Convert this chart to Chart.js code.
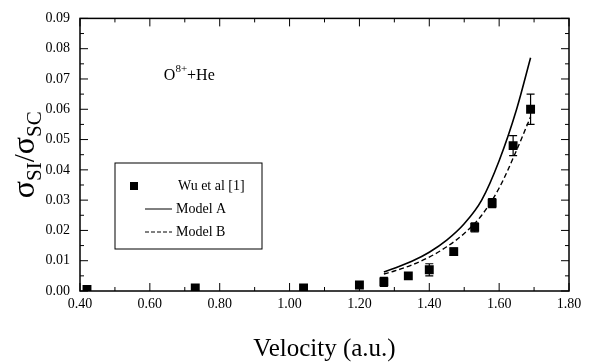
<!DOCTYPE html>
<html>
<head>
<meta charset="utf-8">
<script src="https://cdn.jsdelivr.net/npm/chart.js@4"></script>
<style>
  html, body { margin: 0; padding: 0; background: #fff; }
  #wrap { width: 605px; height: 364px; }
</style>
</head>
<body>
<div id="wrap"><canvas id="ratioChart"></canvas></div>
<script>
// measured points (Wu et al) and error bars
const velocity = [0.42, 0.73, 1.04, 1.20, 1.27, 1.34, 1.40, 1.47, 1.53, 1.58, 1.64, 1.69];
const ratio = [0.0005, 0.001, 0.001, 0.002, 0.003, 0.005, 0.007, 0.013, 0.021, 0.029, 0.048, 0.060];
const ratioErr = [0, 0, 0, 0, 0.0015, 0, 0.002, 0.0012, 0.0015, 0.0015, 0.0033, 0.005];

// model curves
const modelVel = [1.27, 1.30, 1.35, 1.40, 1.45, 1.50, 1.55, 1.60, 1.65, 1.69];
const modelA = [0.0063, 0.0075, 0.0098, 0.0128, 0.0168, 0.0222, 0.0300, 0.0430, 0.0600, 0.0770];
const modelB = [0.0056, 0.0066, 0.0086, 0.0112, 0.0146, 0.0190, 0.0250, 0.0340, 0.0465, 0.0575];

const xTicks = [0.40, 0.60, 0.80, 1.00, 1.20, 1.40, 1.60, 1.80];
const yTicks = [0.00, 0.01, 0.02, 0.03, 0.04, 0.05, 0.06, 0.07, 0.08, 0.09];

const serif = "'Liberation Serif', 'DejaVu Serif', serif";

const toXY = (xs, ys) => xs.map((x, i) => ({ x: x, y: ys[i] }));

// frame, inward ticks, error bars, legend, labels
const decorations = {
  id: "decorations",
  afterDatasetsDraw(chart) {
    const ctx = chart.ctx;
    const xs = chart.scales.x;
    const ys = chart.scales.y;
    const a = chart.chartArea;
    ctx.save();
    ctx.strokeStyle = "#000";
    ctx.fillStyle = "#000";

    // error bars
    ctx.lineWidth = 1.2;
    velocity.forEach((v, i) => {
      if (!ratioErr[i]) return;
      const px = xs.getPixelForValue(v);
      const top = ys.getPixelForValue(ratio[i] + ratioErr[i]);
      const bot = ys.getPixelForValue(ratio[i] - ratioErr[i]);
      ctx.beginPath();
      ctx.moveTo(px, top); ctx.lineTo(px, bot);
      ctx.moveTo(px - 4, top); ctx.lineTo(px + 4, top);
      ctx.moveTo(px - 4, bot); ctx.lineTo(px + 4, bot);
      ctx.stroke();
    });

    // frame
    ctx.lineWidth = 1.5;
    ctx.strokeRect(a.left, a.top, a.right - a.left, a.bottom - a.top);

    // inward ticks
    ctx.lineWidth = 1;
    ctx.beginPath();
    for (let v = 0.4; v <= 1.8001; v += 0.1) {
      const px = xs.getPixelForValue(v);
      const major = Math.round(v * 10) % 2 === 0;
      const len = major ? 8 : 4;
      ctx.moveTo(px, a.bottom); ctx.lineTo(px, a.bottom - len);
      ctx.moveTo(px, a.top); ctx.lineTo(px, a.top + len);
    }
    for (let v = 0; v <= 0.0901; v += 0.005) {
      const py = ys.getPixelForValue(v);
      const major = Math.round(v * 1000) % 10 === 0;
      const len = major ? 8 : 4;
      ctx.moveTo(a.left, py); ctx.lineTo(a.left + len, py);
      ctx.moveTo(a.right, py); ctx.lineTo(a.right - len, py);
    }
    ctx.stroke();

    // O8+ + He label
    const lx = xs.getPixelForValue(0.64);
    const ly = ys.getPixelForValue(0.0715);
    ctx.textBaseline = "alphabetic";
    ctx.textAlign = "left";
    ctx.font = "16px " + serif;
    ctx.fillText("O", lx, ly + 6);
    let w = ctx.measureText("O").width;
    ctx.font = "11px " + serif;
    ctx.fillText("8+", lx + w, ly - 2);
    w += ctx.measureText("8+").width;
    ctx.font = "16px " + serif;
    ctx.fillText("+He", lx + w, ly + 6);

    // legend box
    const bx = 115, by = 163, bw = 147, bh = 86;
    ctx.lineWidth = 1;
    ctx.fillStyle = "#fff";
    ctx.fillRect(bx, by, bw, bh);
    ctx.strokeRect(bx, by, bw, bh);
    ctx.fillStyle = "#000";
    ctx.font = "14px " + serif;
    ctx.textBaseline = "middle";
    ctx.fillRect(130, 182, 8, 8);
    ctx.fillText("Wu et al [1]", 178, 186);
    ctx.beginPath();
    ctx.moveTo(145, 209); ctx.lineTo(172, 209);
    ctx.stroke();
    ctx.fillText("Model A", 176, 209);
    ctx.setLineDash([4, 2]);
    ctx.beginPath();
    ctx.moveTo(145, 232); ctx.lineTo(172, 232);
    ctx.stroke();
    ctx.setLineDash([]);
    ctx.fillText("Model B", 176, 232);

    // y axis title with subscripts
    ctx.save();
    ctx.translate(26, (a.top + a.bottom) / 2);
    ctx.rotate(-Math.PI / 2);
    ctx.textBaseline = "alphabetic";
    const parts = [
      ["\u03c3", 32, 0], ["SI", 21, 7], ["/", 29, 0], ["\u03c3", 32, 0], ["SC", 21, 7]
    ];
    let total = 0;
    parts.forEach(p => { ctx.font = p[1] + "px " + serif; total += ctx.measureText(p[0]).width; });
    let cx = -total / 2;
    parts.forEach(p => {
      ctx.font = p[1] + "px " + serif;
      ctx.fillText(p[0], cx, 8 + p[2]);
      cx += ctx.measureText(p[0]).width;
    });
    ctx.restore();

    ctx.restore();
  }
};

const ctx = document.getElementById("ratioChart");

new Chart(ctx, {
  type: "scatter",
  data: {
    datasets: [
      {
        label: "Wu et al [1]",
        data: toXY(velocity, ratio),
        pointStyle: "rect",
        pointRadius: 6.3,
        backgroundColor: "#000",
        borderColor: "#000",
        borderWidth: 0,
        showLine: false,
      },
      {
        label: "Model A",
        data: toXY(modelVel, modelA),
        showLine: true,
        pointRadius: 0,
        borderColor: "#000",
        borderWidth: 1.6,
        cubicInterpolationMode: "monotone",
      },
      {
        label: "Model B",
        data: toXY(modelVel, modelB),
        showLine: true,
        pointRadius: 0,
        borderColor: "#000",
        borderWidth: 1.4,
        borderDash: [5, 3],
        cubicInterpolationMode: "monotone",
      },
    ],
  },
  options: {
    responsive: true,
    maintainAspectRatio: false,
    animation: false,
    layout: { padding: { top: 15, right: 36, left: 0, bottom: 0 } },
    plugins: {
      legend: { display: false },
      tooltip: { enabled: false },
    },
    scales: {
      x: {
        type: "linear",
        min: 0.4,
        max: 1.8,
        afterBuildTicks: (s) => { s.ticks = xTicks.map(v => ({ value: v })); },
        afterFit: (s) => { s.height = 73; },
        grid: { display: false, drawTicks: false },
        border: { display: false },
        ticks: {
          color: "#000",
          padding: 5,
          font: { family: serif, size: 14 },
          callback: (v) => Number(v).toFixed(2),
        },
        title: {
          display: true,
          text: "Velocity (a.u.)",
          color: "#000",
          font: { family: serif, size: 25 },
          padding: { top: 4, bottom: 0 },
        },
      },
      y: {
        type: "linear",
        min: 0,
        max: 0.09,
        afterBuildTicks: (s) => { s.ticks = yTicks.map(v => ({ value: v })); },
        afterFit: (s) => { s.width = 80; },
        grid: { display: false, drawTicks: false },
        border: { display: false },
        ticks: {
          color: "#000",
          padding: 10,
          font: { family: serif, size: 14 },
          callback: (v) => Number(v).toFixed(2),
        },
      },
    },
  },
  plugins: [decorations],
});
</script>
</body>
</html>
